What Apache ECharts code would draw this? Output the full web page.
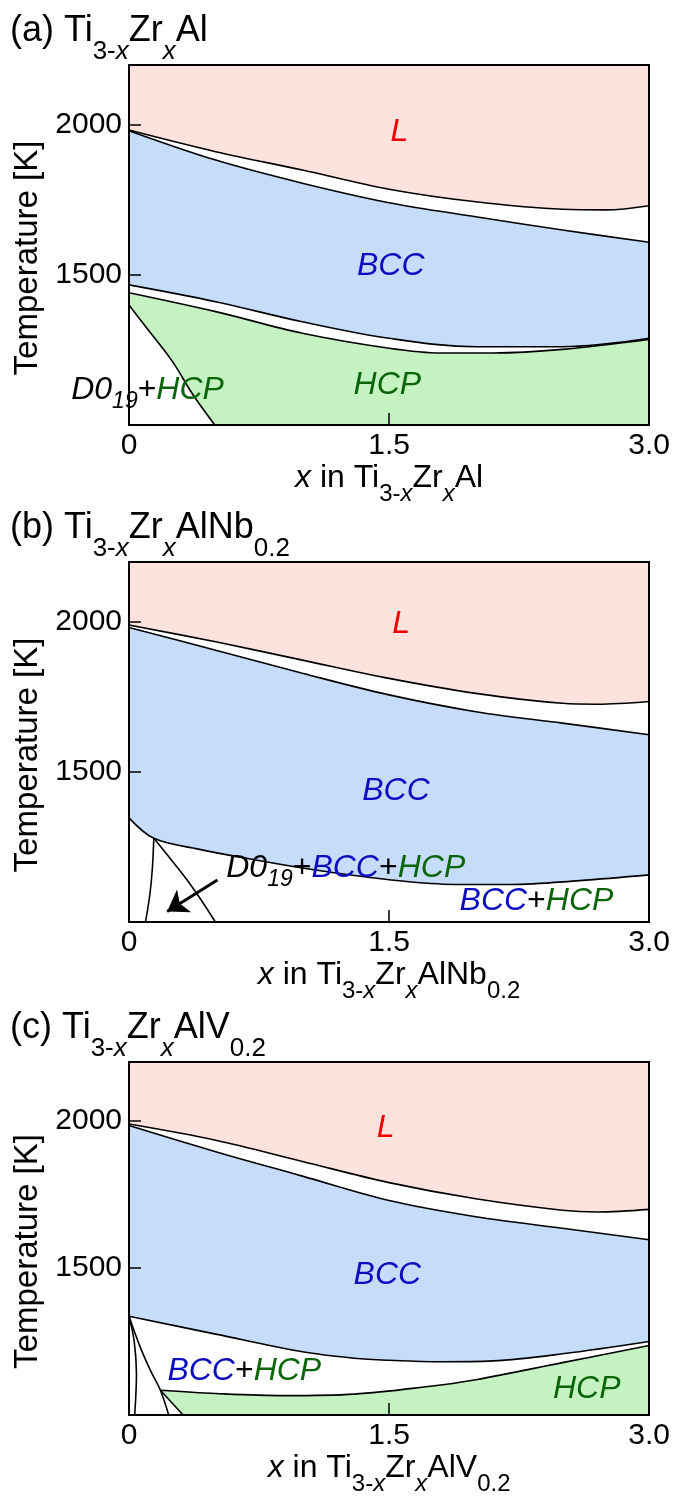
<!DOCTYPE html>
<html>
<head>
<meta charset="utf-8">
<script src="https://cdn.jsdelivr.net/npm/echarts/dist/echarts.min.js"></script>
<style>
html,body{margin:0;padding:0;background:#fff;}
#chart{width:673px;height:1497px;}
</style>
</head>
<body>
<div id="chart"></div>
<script>
// phase boundaries, [x, T(K)]
// (a) Ti3-xZrxAl
var liqA = [[0,1983],[0.5,1911],[1.0,1850],[1.5,1786],[2.0,1744],[2.5,1719],[2.75,1717],[3.0,1731]];
var solA = [[0,1981],[0.5,1883],[1.0,1806],[1.5,1741],[2.0,1694],[2.5,1650],[3.0,1609]];
var bccLowA = [[0,1467],[0.5,1411],[1.0,1344],[1.5,1289],[2.0,1261],[2.5,1261],[3.0,1289]];
var hcpA = [[0,1441],[0.5,1378],[1.0,1306],[1.5,1256],[1.8,1240],[2.1,1240],[2.5,1252],[3.0,1285]];
var d0A = [[0,1400],[0.1,1325],[0.25,1212],[0.37,1100],[0.495,1000]];
var labelsA = [[1.56,1970,'{r|L}'],[1.51,1522,'{b|BCC}'],[1.49,1128,'{g|HCP}'],[0.107,1110,'{k|D0}{ks|19}{p|+}{g|HCP}']];

// (b) Ti3-xZrxAlNb0.2
var liqB = [[0,1990],[0.5,1934],[1.0,1873],[1.5,1812],[2.0,1762],[2.5,1729],[2.7,1726],[3.0,1735]];
var solB = [[0,1982],[0.5,1906],[1.0,1829],[1.5,1757],[2.0,1701],[2.5,1663],[3.0,1624]];
var bccLowB = [[0,1347],[0.143,1279],[0.4,1243],[0.7,1210],[1.0,1180],[1.3,1155],[1.6,1135],[1.9,1125],[2.2,1125],[2.6,1138],[3.0,1157]];
var vertB = [[0.143,1279],[0.135,1180],[0.12,1090],[0.095,1000]];
var diagB = [[0.143,1279],[0.24,1210],[0.335,1140],[0.42,1070],[0.498,1000]];
var arrowB = [[0.51,1140],[0.22,1035]];
var labelsB = [[1.57,1985,'{r|L}'],[1.54,1430,'{b|BCC}'],[1.25,1172,'{k|D0}{ks|19}{p|+}{b|BCC}{p|+}{g|HCP}'],[2.35,1063,'{b|BCC}{p|+}{g|HCP}']];

// (c) Ti3-xZrxAlV0.2
var liqC = [[0,1989],[0.5,1934],[1.0,1862],[1.5,1790],[2.0,1735],[2.5,1696],[2.7,1690],[3.0,1699]];
var solC = [[0,1984],[0.5,1895],[1.0,1812],[1.5,1729],[2.0,1674],[2.5,1635],[3.0,1596]];
var bccLowC = [[0,1336],[0.5,1275],[1.0,1215],[1.3,1193],[1.5,1186],[1.8,1181],[2.1,1184],[2.5,1208],[3.0,1250]];
var hcpC = [[0.181,1084],[0.5,1073],[0.9,1066],[1.3,1071],[1.7,1095],[2.0,1120],[2.5,1178],[3.0,1236]];
var hcpLeftC = [[0.181,1084],[0.312,1000]];
var diagC = [[0,1336],[0.066,1229],[0.124,1151],[0.181,1084],[0.229,1000]];
var vertC = [[0,1336],[0.03,1250],[0.043,1140],[0.033,1000]];
var labelsC = [[1.48,1968,'{r|L}'],[1.49,1468,'{b|BCC}'],[0.665,1143,'{b|BCC}{p|+}{g|HCP}'],[2.64,1080,'{g|HCP}']];

var titles = ['{m|(a) Ti}{s|3-}{si|x}{m|Zr}{si|x}{m|Al}',
              '{m|(b) Ti}{s|3-}{si|x}{m|Zr}{si|x}{m|AlNb}{s|0.2}',
              '{m|(c) Ti}{s|3-}{si|x}{m|Zr}{si|x}{m|AlV}{s|0.2}'];
var xNames = ['{mi|x}{m| in Ti}{s|3-}{si|x}{m|Zr}{si|x}{m|Al}',
              '{mi|x}{m| in Ti}{s|3-}{si|x}{m|Zr}{si|x}{m|AlNb}{s|0.2}',
              '{mi|x}{m| in Ti}{s|3-}{si|x}{m|Zr}{si|x}{m|AlV}{s|0.2}'];

var FONT = '"Liberation Sans", Arial, Helvetica, sans-serif';
var PINK = '#fde2de', BLUEF = '#c5ddfa', GREENF = '#c4f2c0';
var RED = '#f00000', BLUE = '#0c0cc0', GREEN = '#0a640a';
var tops = [65, 562, 1062];

// all tokens top aligned; subscripts pushed down by top padding
function tok(size, pad, extra) {
    var o = {fontSize: size, lineHeight: size + 4, verticalAlign: 'top', color: '#000',
        fontFamily: FONT, fontWeight: 'normal'};
    if (pad) o.padding = [pad, 0, 0, 0];
    for (var k in extra) o[k] = extra[k];
    return o;
}
function subRich(M, S, P) {
    return {
        m: tok(M, 0, {}),
        mi: tok(M, 0, {fontStyle: 'italic'}),
        s: tok(S, P, {}),
        si: tok(S, P, {fontStyle: 'italic'})
    };
}

var labelRich = {
    r: tok(32, 0, {color: RED, fontStyle: 'italic'}),
    b: tok(32, 0, {color: BLUE, fontStyle: 'italic'}),
    g: tok(32, 0, {color: GREEN, fontStyle: 'italic'}),
    k: tok(32, 0, {fontStyle: 'italic'}),
    p: tok(32, 0, {}),
    ks: tok(23, 16, {fontStyle: 'italic'})
};

var grids = [], xAxes = [], yAxes = [], titleOpts = [];
tops.forEach(function (t, i) {
    grids.push({left: 129, top: t, width: 521, height: 360});
    titleOpts.push({text: titles[i], left: 10, top: t - 52, padding: 0,
        textStyle: {fontWeight: 'normal', rich: subRich(36, 26, 26)}});
    xAxes.push({
        gridIndex: i, type: 'value', min: 0, max: 3, interval: 1.5, position: 'bottom', z: 10,
        axisLine: {show: true, onZero: false, lineStyle: {color: '#000', width: 2}},
        axisTick: {show: true, inside: true, length: 12, lineStyle: {color: '#000', width: 1.5}},
        axisLabel: {margin: 6, fontSize: 30, color: '#000', fontFamily: FONT,
            formatter: function (v) { return v === 0 ? '0' : v.toFixed(1); }},
        splitLine: {show: false},
        name: xNames[i], nameLocation: 'middle', nameGap: 37,
        nameTextStyle: {rich: subRich(32, 24, 20)}
    });
    xAxes.push({
        gridIndex: i, type: 'value', min: 0, max: 3, position: 'top', z: 10,
        axisLine: {show: true, onZero: false, lineStyle: {color: '#000', width: 2}},
        axisTick: {show: false}, axisLabel: {show: false}, splitLine: {show: false}
    });
    yAxes.push({
        gridIndex: i, type: 'value', min: 1000, max: 2200, interval: 500, position: 'left', z: 10,
        axisLine: {show: true, onZero: false, lineStyle: {color: '#000', width: 2}},
        axisTick: {show: true, inside: true, length: 12, lineStyle: {color: '#000', width: 1.5}},
        axisLabel: {margin: 7, fontSize: 30, color: '#000', fontFamily: FONT,
            formatter: function (v) { return (v === 1500 || v === 2000) ? String(v) : ''; }},
        splitLine: {show: false},
        name: 'Temperature [K]', nameLocation: 'middle', nameGap: 82,
        nameTextStyle: {fontSize: 33, color: '#000', fontFamily: FONT, padding: [0, 26, 0, 0]}
    });
    yAxes.push({
        gridIndex: i, type: 'value', min: 1000, max: 2200, position: 'right', z: 10,
        axisLine: {show: true, onZero: false, lineStyle: {color: '#000', width: 2}},
        axisTick: {show: false}, axisLabel: {show: false}, splitLine: {show: false}
    });
});

function fill(i, data, color, origin, smooth) {
    return {type: 'line', xAxisIndex: 2 * i, yAxisIndex: 2 * i, data: data, smooth: smooth,
        symbol: 'none', silent: true, z: 1,
        lineStyle: {width: 0, opacity: 0},
        areaStyle: {color: color, opacity: 1, origin: origin}};
}
function edge(i, data, smooth) {
    return {type: 'line', xAxisIndex: 2 * i, yAxisIndex: 2 * i, data: data, smooth: smooth,
        symbol: 'none', silent: true, z: 3,
        lineStyle: {color: '#000', width: 1.6}};
}
function labels(i, arr) {
    return {type: 'scatter', xAxisIndex: 2 * i, yAxisIndex: 2 * i, symbolSize: 1, silent: true, z: 4,
        itemStyle: {color: 'rgba(0,0,0,0)'},
        data: arr.map(function (l) { return {value: [l[0], l[1]], txt: l[2]}; }),
        label: {show: true, position: 'inside', color: '#000', textBorderWidth: 0, opacity: 1,
            formatter: function (p) { return p.data.txt; }, rich: labelRich}};
}

var S = 0.35;
var series = [
    // (a)
    fill(0, liqA, PINK, 'end', S), fill(0, solA, BLUEF, 'start', S), fill(0, bccLowA, '#fff', 'start', S),
    fill(0, hcpA, GREENF, 'start', S), fill(0, d0A, '#fff', 'start', S),
    edge(0, liqA, S), edge(0, solA, S), edge(0, bccLowA, S), edge(0, hcpA, S), edge(0, d0A, S),
    labels(0, labelsA),
    // (b)
    fill(1, liqB, PINK, 'end', S), fill(1, solB, BLUEF, 'start', S), fill(1, bccLowB, '#fff', 'start', S),
    edge(1, liqB, S), edge(1, solB, S), edge(1, bccLowB, S), edge(1, vertB, S), edge(1, diagB, S),
    {type: 'line', xAxisIndex: 2, yAxisIndex: 2, data: [], z: 3, silent: true,
        markLine: {silent: true, animation: false, symbol: ['none', 'arrow'], symbolSize: 20,
            label: {show: false}, lineStyle: {color: '#000', width: 3, type: 'solid'},
            data: [[{coord: arrowB[0]}, {coord: arrowB[1]}]]}},
    labels(1, labelsB),
    // (c)
    fill(2, liqC, PINK, 'end', S), fill(2, solC, BLUEF, 'start', S), fill(2, bccLowC, '#fff', 'start', S),
    fill(2, hcpC, GREENF, 'start', S), fill(2, hcpLeftC, '#fff', 'start', false),
    edge(2, liqC, S), edge(2, solC, S), edge(2, bccLowC, S), edge(2, hcpC, S), edge(2, hcpLeftC, false),
    edge(2, diagC, S), edge(2, vertC, S),
    labels(2, labelsC)
];

var chart = echarts.init(document.getElementById('chart'));
chart.setOption({
    animation: false,
    backgroundColor: '#fff',
    title: titleOpts,
    grid: grids,
    xAxis: xAxes,
    yAxis: yAxes,
    series: series
});
</script>
</body>
</html>
